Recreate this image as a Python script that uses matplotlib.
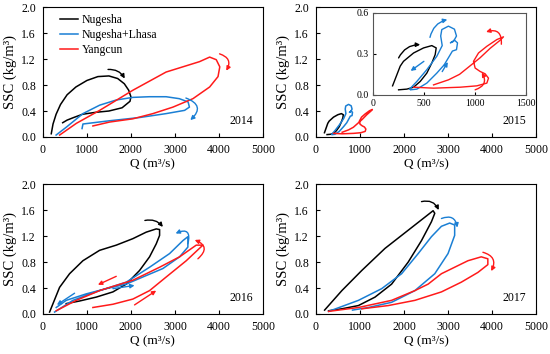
import matplotlib
matplotlib.use("Agg")
import matplotlib.pyplot as plt

plt.rcParams['font.family'] = ['Liberation Serif', 'DejaVu Serif']

# ---- colours
C_NUG = 'black'
C_LHA = '#1a7fd4'
C_YAN = '#ff1a1a'
labels = ['Nugesha', 'Nugesha+Lhasa', 'Yangcun']

# ---- 2014
nug14_q = [190, 230, 300, 400, 550, 750, 1000, 1250, 1500, 1700, 1850, 1950, 2000, 1980, 1800, 1500, 1200, 900, 700, 550, 450]
nug14_s = [0.05, 0.20, 0.35, 0.50, 0.65, 0.77, 0.87, 0.93, 0.94, 0.90, 0.82, 0.72, 0.62, 0.55, 0.45, 0.40, 0.38, 0.35, 0.30, 0.26, 0.22]
lha14_q = [300, 530, 910, 1290, 1670, 2045, 2420, 2800, 3100, 3300, 3330, 3220, 2800, 2200, 1515, 910, 890]
lha14_s = [0.03, 0.15, 0.36, 0.49, 0.57, 0.61, 0.62, 0.62, 0.59, 0.54, 0.46, 0.41, 0.36, 0.30, 0.25, 0.20, 0.13]
yan14_q = [380, 760, 1290, 2045, 2800, 3560, 3790, 3940, 4020, 3980, 3790, 3410, 2955, 2500, 2045, 1515, 1136]
yan14_s = [0.03, 0.21, 0.41, 0.72, 1.00, 1.16, 1.23, 1.19, 1.08, 0.93, 0.77, 0.59, 0.46, 0.36, 0.28, 0.23, 0.17]

# ---- 2015
nug15_q = [193, 268, 300, 399, 497, 578, 621, 611, 578, 529, 464, 399, 333, 252]
nug15_s = [0.066, 0.21, 0.245, 0.306, 0.343, 0.36, 0.343, 0.294, 0.233, 0.159, 0.098, 0.056, 0.042, 0.037]
lha15_q = [360, 431, 529, 627, 680, 665, 676, 741, 800, 820, 790, 760, 800, 830, 820, 780, 740, 700, 627, 529, 431, 370]
lha15_s = [0.042, 0.098, 0.184, 0.282, 0.36, 0.43, 0.477, 0.502, 0.48, 0.43, 0.39, 0.38, 0.40, 0.38, 0.33, 0.32, 0.27, 0.22, 0.159, 0.086, 0.042, 0.037]
yan15_q = [400, 595, 856, 1020, 1118, 1134, 1101, 1052, 1003, 987, 1036, 1118, 1216, 1281, 1250, 1150, 1050, 950, 850, 742, 595]
yan15_s = [0.056, 0.049, 0.056, 0.066, 0.086, 0.122, 0.154, 0.171, 0.196, 0.245, 0.306, 0.355, 0.404, 0.424, 0.40, 0.34, 0.27, 0.21, 0.15, 0.11, 0.073]

# ---- 2016
nug16_q = [152, 379, 606, 909, 1288, 1667, 2045, 2348, 2576, 2652, 2652, 2576, 2424, 2197, 1894, 1591, 1212, 833, 530]
nug16_s = [0.03, 0.41, 0.62, 0.82, 0.98, 1.06, 1.16, 1.26, 1.31, 1.30, 1.21, 1.08, 0.88, 0.67, 0.46, 0.34, 0.26, 0.20, 0.16]
lha16_q = [265, 682, 1288, 1894, 2424, 2879, 3182, 3295, 3295, 3106, 2727, 2273, 1894, 1439, 985, 530, 303]
lha16_s = [0.03, 0.21, 0.36, 0.49, 0.72, 0.93, 1.13, 1.19, 1.03, 0.88, 0.70, 0.57, 0.46, 0.39, 0.31, 0.21, 0.10]
yan16_q = [303, 758, 1288, 2045, 2652, 3106, 3485, 3636, 3258, 2803, 2424, 2045, 1591, 1136]
yan16_s = [0.05, 0.21, 0.36, 0.52, 0.72, 0.88, 1.06, 1.06, 0.82, 0.57, 0.36, 0.23, 0.15, 0.10]

# ---- 2017
nug17_q = [196, 588, 1041, 1569, 2097, 2474, 2662, 2700, 2624, 2398, 2097, 1719, 1342, 965, 588, 287]
nug17_s = [0.06, 0.36, 0.67, 1.01, 1.29, 1.49, 1.59, 1.55, 1.42, 1.13, 0.80, 0.46, 0.26, 0.13, 0.08, 0.05]
lha17_q = [287, 965, 1493, 1946, 2323, 2624, 2851, 3039, 3152, 3152, 3001, 2700, 2248, 1719, 1191, 830]
lha17_s = [0.04, 0.21, 0.39, 0.62, 0.93, 1.19, 1.35, 1.40, 1.37, 1.21, 0.93, 0.62, 0.36, 0.18, 0.10, 0.06]
yan17_q = [287, 965, 1719, 2248, 2549, 2851, 3152, 3454, 3756, 3906, 3906, 3680, 3303, 2851, 2248, 1644, 1041]
yan17_s = [0.04, 0.10, 0.21, 0.36, 0.46, 0.62, 0.72, 0.82, 0.88, 0.85, 0.76, 0.64, 0.49, 0.34, 0.21, 0.13, 0.08]

# ---- direction arrows: (start Q, start SSC, end Q, end SSC, colour index, curvature)
arrows14 = [(1480, 1.04, 1860, 0.90, 0, -0.3), (3250, 0.60, 3350, 0.26, 1, -0.8), (4015, 1.28, 4167, 1.02, 2, -0.6)]
arrows15 = [(252, 0.27, 464, 0.367, 0, -0.3), (560, 0.42, 730, 0.55, 1, -0.3), (500, 0.245, 370, 0.175, 1, 0.0),
            (680, 0.17, 735, 0.24, 1, 0.0), (1260, 0.37, 1110, 0.46, 2, 0.7), (1003, 0.037, 1068, 0.164, 2, 0.6)]
arrows16 = [(2318, 1.44, 2727, 1.34, 0, -0.3), (3295, 1.08, 3015, 1.24, 1, 1.0), (720, 0.32, 318, 0.14, 1, 0.0),
            (1591, 0.39, 2083, 0.44, 1, 0.0), (1667, 0.58, 1250, 0.45, 2, 0.0), (2083, 0.14, 2576, 0.36, 2, 0.0),
            (3523, 0.85, 3450, 1.14, 2, 0.8)]
arrows17 = [(2398, 1.73, 2790, 1.60, 0, -0.4), (2851, 1.47, 3212, 1.33, 1, -0.6), (3794, 0.95, 3982, 0.66, 2, -0.6)]

colors = [C_NUG, C_LHA, C_YAN]
years = ['2014', '2015', '2016', '2017']
series = [
    [(nug14_q, nug14_s), (lha14_q, lha14_s), (yan14_q, yan14_s)],
    [(nug15_q, nug15_s), (lha15_q, lha15_s), (yan15_q, yan15_s)],
    [(nug16_q, nug16_s), (lha16_q, lha16_s), (yan16_q, yan16_s)],
    [(nug17_q, nug17_s), (lha17_q, lha17_s), (yan17_q, yan17_s)],
]
arrow_sets = [arrows14, [], arrows16, arrows17]

fig = plt.figure(figsize=(5.5, 3.54), dpi=100)
boxes = [(0.078, 0.613, 0.40, 0.367), (0.5745, 0.613, 0.40, 0.367),
         (0.078, 0.113, 0.40, 0.367), (0.5745, 0.113, 0.40, 0.367)]


def draw_arrows(ax, arrows):
    for q0, s0, q1, s1, ci, rad in arrows:
        ax.annotate('', xy=(q1, s1), xytext=(q0, s0),
                    arrowprops=dict(arrowstyle='-|>', color=colors[ci], lw=1.0,
                                    mutation_scale=6, shrinkA=0, shrinkB=0,
                                    connectionstyle=f'arc3,rad={rad}'))


for i, box in enumerate(boxes):
    ax = fig.add_axes(box)
    for (q, s), c, lab in zip(series[i], colors, labels):
        ax.plot(q, s, color=c, lw=1.1, label=lab)
    draw_arrows(ax, arrow_sets[i])
    ax.set_xlim(0, 5000)
    ax.set_ylim(0, 2.0)
    ax.set_xticks([0, 1000, 2000, 3000, 4000, 5000])
    ax.set_yticks([0.0, 0.4, 0.8, 1.2, 1.6, 2.0])
    ax.set_yticklabels([f'{v:.1f}' for v in [0.0, 0.4, 0.8, 1.2, 1.6, 2.0]])
    ax.tick_params(direction='in', length=3, labelsize=8.5, pad=5)
    ax.set_xlabel('Q (m³/s)', fontsize=9.5, labelpad=2)
    ax.set_ylabel('SSC (kg/m³)', fontsize=10.5, labelpad=3)
    for sp in ax.spines.values():
        sp.set_linewidth(0.8)
    ax.text(0.955, 0.08, years[i], transform=ax.transAxes, ha='right', va='bottom', fontsize=8.5)
    if i == 0:
        ax.legend(loc='upper left', bbox_to_anchor=(0.03, 1.03), frameon=False, fontsize=8.5,
                  handlelength=1.5, handletextpad=0.3, labelspacing=0.25)

# inset for 2015
ins = fig.add_axes((0.678, 0.732, 0.278, 0.232))
for (q, s), c in zip(series[1], colors):
    ins.plot(q, s, color=c, lw=1.0)
draw_arrows(ins, arrows15)
ins.set_xlim(0, 1500)
ins.set_ylim(0, 0.6)
ins.set_xticks([0, 500, 1000, 1500])
ins.set_yticks([0.0, 0.3, 0.6])
ins.set_yticklabels(['0.0', '0.3', '0.6'])
ins.tick_params(direction='in', length=2, labelsize=7, pad=3)
for sp in ins.spines.values():
    sp.set_linewidth(0.8)
    sp.set_color('#555555')

fig.savefig('out.png', dpi=100)
